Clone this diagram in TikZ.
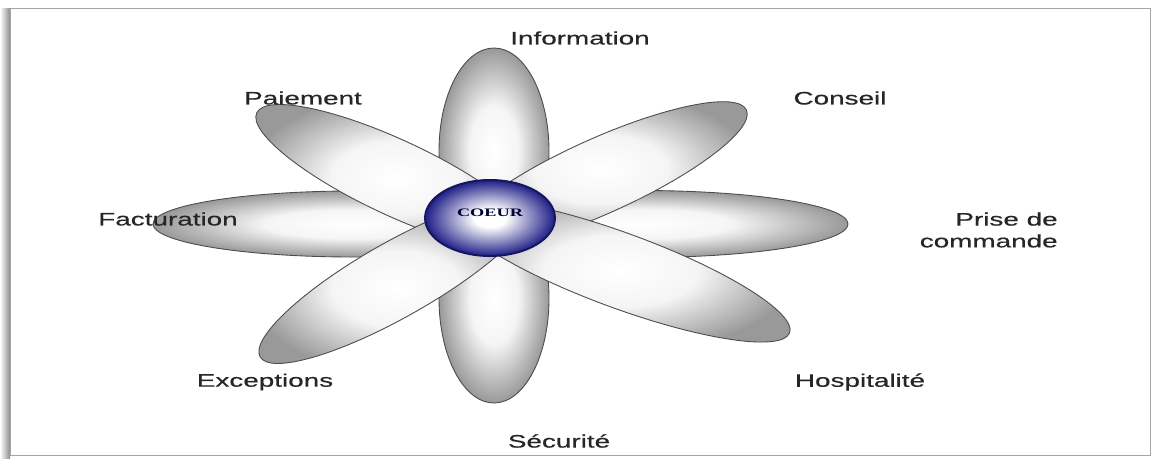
\documentclass[tikz,border=0pt]{standalone}
\usepackage{fontspec}
\setmainfont{Liberation Sans}[FakeStretch=1.54, FakeBold=0.4]
\newfontfamily\coeurfont{Liberation Serif}[FakeStretch=1.6]
\usepackage{xcolor}
\usepackage{tikz}
\usetikzlibrary{calc,shapes.geometric}
\definecolor{coeurblue}{RGB}{30,30,135}
\definecolor{coeurline}{RGB}{22,22,95}
\pgfdeclareradialshading{petalshade}{\pgfpointorigin}{color(0bp)=(white); color(11bp)=(black!4); color(25bp)=(black!40); color(50bp)=(black!40)}
\pgfdeclareradialshading{coeurshade}{\pgfpointorigin}{color(0bp)=(white); color(6bp)=(white); color(25bp)=(coeurblue); color(50bp)=(coeurblue)}
\tikzset{
  petal/.style n args={2}{ellipse, draw=black!70, line width=0.5pt, shading=petalshade,
                          minimum width=#1*0.02cm, minimum height=#2*0.02cm, inner sep=0pt},
  coeur/.style={ellipse, draw=coeurline, line width=1.1pt, shading=coeurshade,
                minimum width=2.6cm, minimum height=1.52cm, inner sep=0pt},
  lbl/.style={font=\fontsize{10.3}{12.4}\selectfont, text=black!85, inner sep=0pt}}

\begin{document}
\begin{tikzpicture}[x=0.02cm, y=0.02cm]
  \useasboundingbox (0,0) rectangle (1152,458);
  % frame with its shadow on the left
  \shade[left color=white, right color=black!45] (0,0) rectangle (10,450);
  \draw[black!35, fill=white] (10,3) rectangle (1150,450);
  \coordinate (flower) at (494,234);
  % 1: upright and flat petals (behind)
  \foreach \a/\d/\l/\w [count=\i] in {90/73/206/110, -90/74.5/209/110, 180/140.5/401/66, 0/147/414/67}{
    \node[petal={\l}{\w}, rotate=\a] (petal\i) at ($(flower)+(\a:\d)$) {};}
  % 2: slanted petals (in front)
  \foreach \a/\d/\l/\w [count=\i from 5] in {154.9/108.5/307/75, 24.3/116/322/75, -20.2/135/360/75, 209.6/112/314/75}{
    \node[petal={\l}{\w}, rotate=\a] (petal\i) at ($(flower)+(\a:\d)$) {};}
  % 3: the heart
  \node[coeur] (coeur) at (490,240) {};
  \node[font=\coeurfont\bfseries\fontsize{6.5}{7}\selectfont, text=black!80!blue] (coeurtxt) at (490,245) {COEUR};
  % 4: labels
  \node[lbl] (information) at (580,420) {Information};
  \node[lbl] (paiement) at (303,360) {Paiement};
  \node[lbl] (conseil) at (840,360) {Conseil};
  \node[lbl] (facturation) at (168,239) {Facturation};
  \node[lbl, align=right, anchor=east] (prise) at (1058,228) {Prise de\\commande};
  \node[lbl] (exceptions) at (265,76) {Exceptions};
  \node[lbl] (hospitalite) at (860,76) {Hospitalité};
  \node[lbl] (securite) at (559,17) {Sécurité};
\end{tikzpicture}
\end{document}
